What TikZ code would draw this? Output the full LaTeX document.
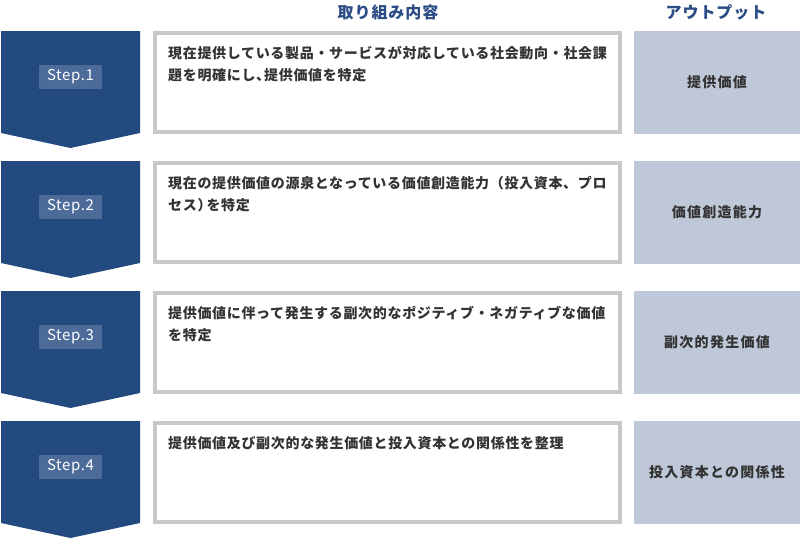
\documentclass[tikz,border=0pt]{standalone}
\usepackage{fontspec}
\newfontfamily\jp{Noto Sans CJK JP}[LetterSpace=4.8]
\newfontfamily\jphead{Noto Sans CJK JP}[LetterSpace=6]
\newfontfamily\jpout{Noto Sans CJK JP}[LetterSpace=9]
\newfontfamily\stepfont{Noto Sans CJK JP}[LetterSpace=4]
\definecolor{stepblue}{HTML}{234A7E}
\definecolor{labelblue}{HTML}{4D6B99}
\definecolor{outfill}{HTML}{BEC8D8}
\definecolor{bordergray}{HTML}{C8C8C8}
\definecolor{txt}{HTML}{333333}
\definecolor{headblue}{HTML}{2B4C84}
\begin{document}
\begin{tikzpicture}[x=1pt,y=-1pt,
  steplabel/.style={fill=labelblue, text=white, minimum width=63pt, minimum height=24pt, inner sep=0pt,
    font=\stepfont\fontsize{15}{15}\selectfont},
  contentbox/.style={draw=bordergray, line width=4pt, fill=white, minimum width=465pt, minimum height=99pt, inner sep=0pt},
  outbox/.style={fill=outfill, minimum width=166pt, minimum height=103pt, inner sep=0pt, text=txt,
    font=\jpout\bfseries\fontsize{14}{14}\selectfont},
  cline/.style={anchor=base west, inner sep=0pt, text=txt, font=\jp\bfseries\fontsize{14}{14}\selectfont},
  header/.style={inner sep=0pt, text=headblue, font=\jphead\bfseries\fontsize{16}{16}\selectfont}
  ]
\useasboundingbox (0,0) rectangle (800,546);
\fill[white] (0,0) rectangle (800,546);
\node[header] (h1) at (388,12) {取り組み内容};
\node[header] (h2) at (716,12) {アウトプット};
\foreach \i/\la/\lb/\out in {
  1/現在提供している製品・サービスが対応している社会動向・社会課/題を明確にし、\kern-6pt 提供価値を特定/提供価値,
  2/現在の提供価値の源泉となっている価値創造能力（投入資本、プロ/セス）\kern-5pt を特定/価値創造能力,
  3/提供価値に伴って発生する副次的なポジティブ・ネガティブな価値/を特定/副次的発生価値,
  4/提供価値及び副次的な発生価値と投入資本との関係性を整理//投入資本との関係性}{
  \pgfmathsetmacro{\y}{31+130*(\i-1)}
  \fill[stepblue] (1,\y) -- (140,\y) -- (140,\y+102) -- (70.5,\y+117) -- (1,\y+102) -- cycle;
  \node[steplabel] (s\i) at (70.5,\y+46) {Step.\i};
  \node[contentbox] (c\i) at (387.5,\y+51.5) {};
  \node[cline] (c\i a) at (168,\y+27) {\la};
  \node[cline] (c\i b) at (168,\y+49) {\lb};
  \node[outbox] (o\i) at (717,\y+51.5) {\out};
}
\end{tikzpicture}
\end{document}
